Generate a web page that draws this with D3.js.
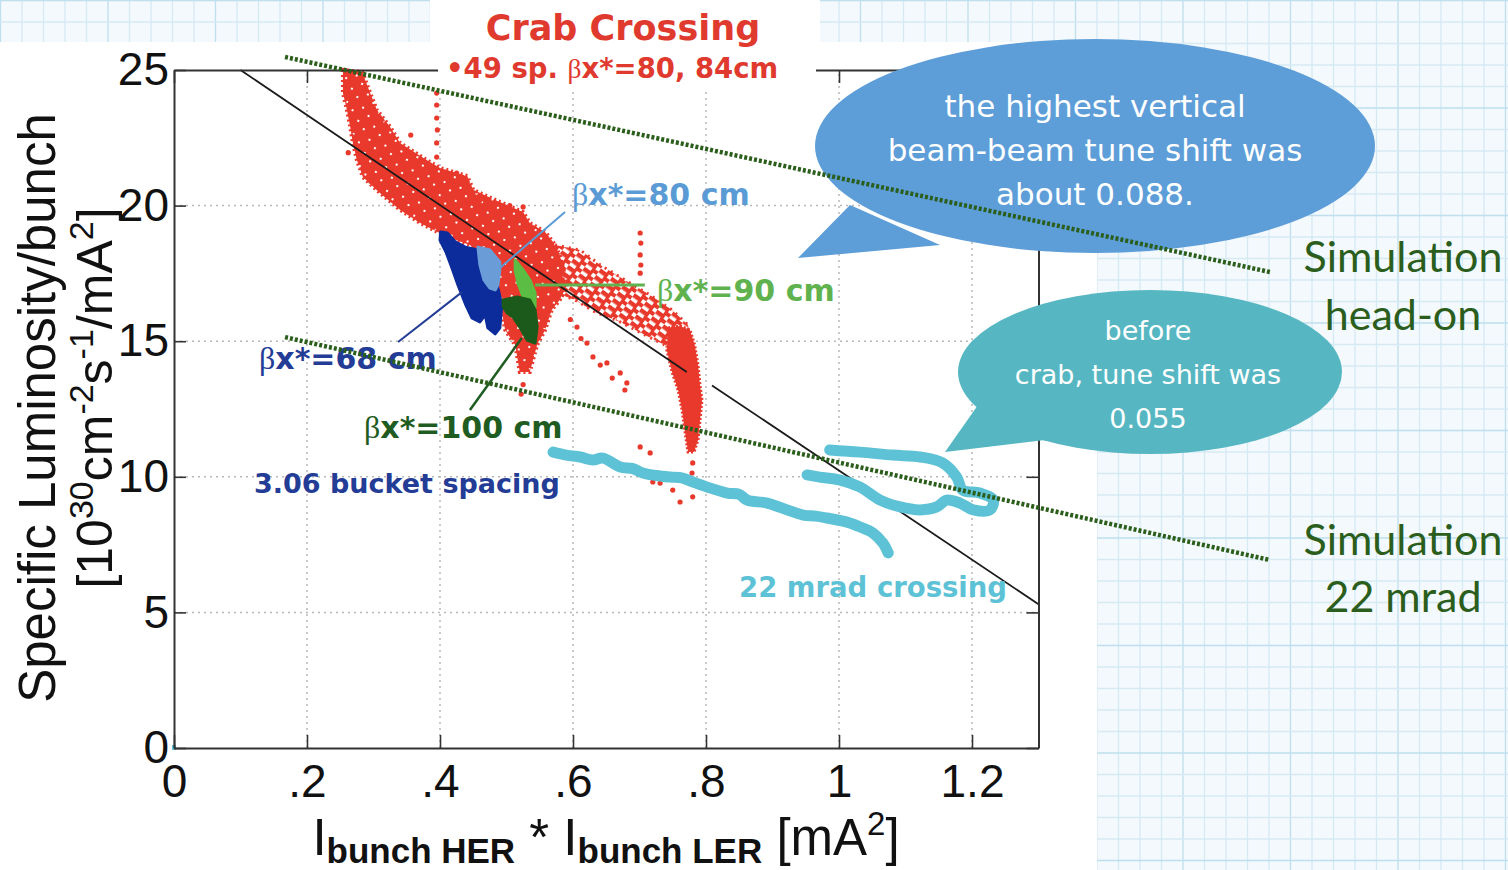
<!DOCTYPE html>
<html>
<head>
<meta charset="utf-8">
<script src="https://cdn.jsdelivr.net/npm/d3@7"></script>
<style>
  body { margin: 0; background: #fff; }
  svg { display: block; }
</style>
</head>
<body>
<svg id="chart"></svg>
<script>
// ---- data (x = Ibunch HER * Ibunch LER [mA^2], y = specific luminosity) ----
const xTicks = [0, 0.2, 0.4, 0.6, 0.8, 1, 1.2];
const xTickLabels = ["0", ".2", ".4", ".6", ".8", "1", "1.2"];
const yTicks = [0, 5, 10, 15, 20, 25];
const xGrid = [0.2, 0.4, 0.6, 0.8, 1, 1.2];
const yGrid = [5, 10, 15, 20];

// crab crossing, 49 sp. bx*=80,84cm : dense band, streaky band, vertical streak, loose points
const redBandDense = [
  [0.254, 25.00], [0.254, 24.15], [0.260, 23.53], [0.265, 22.90], [0.269, 22.31],
  [0.275, 21.68], [0.284, 21.05], [0.310, 20.46], [0.340, 19.84], [0.370, 19.36],
  [0.411, 18.84], [0.445, 18.55], [0.487, 17.63], [0.490, 16.52], [0.498, 15.41],
  [0.513, 14.86], [0.520, 13.86], [0.535, 13.86], [0.546, 14.86], [0.558, 15.41],
  [0.568, 16.15], [0.580, 16.52], [0.589, 16.96], [0.586, 17.63], [0.580, 18.18],
  [0.570, 18.66], [0.558, 19.03], [0.535, 19.36], [0.525, 19.76], [0.483, 20.21],
  [0.450, 20.58], [0.441, 21.09], [0.400, 21.39], [0.380, 21.68], [0.340, 22.31],
  [0.325, 22.90], [0.305, 23.53], [0.295, 24.15], [0.283, 24.93]
];
const redBandStreaky = [
  [0.573, 18.55], [0.611, 18.36], [0.641, 17.81], [0.678, 17.26], [0.716, 16.70],
  [0.749, 16.15], [0.773, 15.60], [0.776, 14.86], [0.738, 14.86], [0.708, 15.23],
  [0.671, 15.71], [0.633, 16.08], [0.603, 16.52], [0.583, 16.70]
];
const redStreak = [
  [0.743, 15.49], [0.761, 15.56], [0.776, 15.41], [0.783, 14.86], [0.788, 14.12],
  [0.791, 13.38], [0.794, 12.83], [0.791, 12.09], [0.788, 11.36], [0.782, 10.91],
  [0.773, 10.91], [0.768, 11.73], [0.764, 12.46], [0.758, 13.20], [0.749, 13.86],
  [0.741, 14.68]
];
const redDots = [
  [0.395, 24.15], [0.395, 23.71], [0.395, 23.23], [0.396, 22.79], [0.395, 22.31], [0.395, 21.79],
  [0.701, 18.99], [0.702, 18.62], [0.701, 18.18], [0.702, 17.81], [0.701, 17.51],
  [0.356, 22.60], [0.412, 20.95], [0.425, 21.20], [0.460, 20.20], [0.505, 20.00],
  [0.525, 19.95], [0.262, 21.95], [0.296, 20.90],
  [0.606, 15.52], [0.621, 14.93], [0.630, 14.42], [0.651, 14.20], [0.671, 13.83], [0.681, 13.46],
  [0.641, 14.12], [0.659, 13.64], [0.678, 13.20], [0.612, 15.10], [0.596, 15.80],
  [0.701, 11.10], [0.716, 10.88], [0.731, 9.77], [0.750, 9.51], [0.780, 9.26], [0.761, 9.07],
  [0.720, 9.81], [0.779, 10.14], [0.780, 10.51],
  [0.525, 13.40], [0.522, 13.05]
];

// 3.06 bucket spacing clusters
const beta68 = [
  [0.401, 19.03], [0.411, 18.99], [0.423, 18.66], [0.438, 18.47], [0.457, 18.36],
  [0.475, 17.92], [0.486, 17.07], [0.493, 16.33], [0.490, 15.49], [0.483, 15.27],
  [0.472, 15.49], [0.468, 15.97], [0.460, 15.71], [0.448, 15.86], [0.439, 16.33],
  [0.427, 17.07], [0.418, 17.70], [0.409, 18.29], [0.400, 18.73]
];
const beta80 = [
  [0.457, 18.47], [0.475, 18.36], [0.490, 17.92], [0.490, 17.63], [0.487, 17.07],
  [0.483, 16.89], [0.475, 16.96], [0.466, 17.26], [0.460, 17.81]
];
const beta90 = [
  [0.513, 17.99], [0.525, 17.63], [0.535, 17.26], [0.543, 16.78], [0.543, 16.26],
  [0.535, 16.41], [0.525, 16.63], [0.517, 17.15], [0.513, 17.63]
];
const beta100 = [
  [0.495, 16.52], [0.516, 16.63], [0.535, 16.52], [0.543, 16.15], [0.546, 15.52],
  [0.543, 14.93], [0.531, 15.04], [0.520, 15.52], [0.510, 15.89], [0.501, 16.04],
  [0.495, 16.26]
];

// 22 mrad crossing
const mradTrailA = [
  [0.570, 10.91], [0.590, 10.80], [0.611, 10.73], [0.630, 10.62], [0.645, 10.69],
  [0.671, 10.36], [0.690, 10.30], [0.705, 10.14], [0.725, 10.05], [0.746, 9.99],
  [0.765, 9.95], [0.780, 9.81], [0.802, 9.62], [0.832, 9.40], [0.850, 9.35],
  [0.862, 9.14], [0.892, 9.03], [0.922, 8.78], [0.946, 8.59], [0.965, 8.55],
  [0.982, 8.48], [1.012, 8.33], [1.032, 8.15], [1.051, 7.93], [1.066, 7.56],
  [1.074, 7.19]
];
const mradTrailB = [
  [0.986, 10.99], [1.032, 10.91], [1.081, 10.80], [1.122, 10.73], [1.156, 10.51],
  [1.177, 9.99], [1.186, 9.51], [1.212, 9.40], [1.232, 9.14], [1.227, 8.78],
  [1.202, 8.78], [1.182, 9.03], [1.162, 9.14], [1.147, 8.89], [1.122, 8.78],
  [1.092, 8.89], [1.062, 9.14], [1.032, 9.62], [1.002, 9.88], [0.971, 9.99],
  [0.952, 10.07]
];
const originDot = [[0, 0]];

// straight lines
const fitUpper = [[0.1, 25], [0.771, 13.86]];
const fitLower = [[0.809, 13.37], [1.3, 5.3]];
const simHeadOn = [[0.167, 25.48], [1.648, 17.55]];
const sim22mrad = [[0.167, 15.15], [1.648, 6.93]];

// leader lines for the beta labels (data coords)
const leaders = [
  { pts: [[0.588, 19.76], [0.490, 17.70]], color: "#5b9bd5", w: 2 },
  { pts: [[0.543, 17.07], [0.708, 17.07]], color: "#5fb24e", w: 3 },
  { pts: [[0.337, 14.97], [0.433, 16.81]], color: "#233c96", w: 2 },
  { pts: [[0.445, 12.46], [0.523, 15.12]], color: "#1f5c22", w: 2.5 }
];

// ---- drawing ----
const W = 1508, H = 870;
const RED = "#e8392c";
const svg = d3.select("#chart").attr("width", W).attr("height", H);

// textures for the scatter clouds
const defs = svg.append("defs");
const streaks = defs.append("pattern")
  .attr("id", "redStreaks")
  .attr("patternUnits", "userSpaceOnUse")
  .attr("width", 14).attr("height", 8)
  .attr("patternTransform", "rotate(36)");
streaks.append("rect").attr("width", 14).attr("height", 8).attr("fill", "#fff");
streaks.append("rect").attr("x", 0).attr("y", 0).attr("width", 10).attr("height", 4.5).attr("fill", RED);
streaks.append("rect").attr("x", 7).attr("y", 4).attr("width", 9).attr("height", 4).attr("fill", RED);
const speckle = defs.append("pattern")
  .attr("id", "redSpeckle")
  .attr("patternUnits", "userSpaceOnUse")
  .attr("width", 17).attr("height", 14)
  .attr("patternTransform", "rotate(20)");
speckle.append("rect").attr("width", 17).attr("height", 14).attr("fill", RED);
[[3, 4], [11, 10]].forEach(p => {
  speckle.append("rect").attr("x", p[0]).attr("y", p[1]).attr("width", 2).attr("height", 2).attr("fill", "#fff");
});

// graph paper behind the pasted chart
const paper = svg.append("g");
paper.append("rect").attr("width", W).attr("height", H).attr("fill", "#f3f9fc");
paper.selectAll("line.v")
  .data(d3.range(0.5, W, 21.5))
  .enter().append("line")
  .attr("x1", d => d).attr("x2", d => d)
  .attr("y1", 0).attr("y2", H)
  .attr("stroke", (d, i) => i % 5 === 0 ? "#bfdfee" : "#d6eaf4")
  .attr("stroke-width", 1.3);
paper.selectAll("line.h")
  .data(d3.range(0.5, H, 21.5))
  .enter().append("line")
  .attr("y1", d => d).attr("y2", d => d)
  .attr("x1", 0).attr("x2", W)
  .attr("stroke", (d, i) => i % 5 === 0 ? "#bfdfee" : "#d6eaf4")
  .attr("stroke-width", 1.3);
svg.append("rect").attr("x", 0).attr("y", 42).attr("width", 1097).attr("height", H - 42).attr("fill", "#fff");
svg.append("rect").attr("x", 430).attr("y", 0).attr("width", 390).attr("height", 44).attr("fill", "#fff");

const x = d3.scaleLinear().domain([0, 1.3]).range([174, 1038.5]);
const y = d3.scaleLinear().domain([0, 25]).range([748, 70]);
const line = d3.line().x(d => x(d[0])).y(d => y(d[1]));
const smooth = d3.line().x(d => x(d[0])).y(d => y(d[1])).curve(d3.curveCatmullRom);
const closed = d3.line().x(d => x(d[0])).y(d => y(d[1])).curve(d3.curveLinearClosed);

// dotted grid
svg.append("g").selectAll("line")
  .data(xGrid).enter().append("line")
  .attr("x1", d => x(d)).attr("x2", d => x(d))
  .attr("y1", y(0)).attr("y2", y(25))
  .attr("stroke", "#b8b8b8").attr("stroke-width", 1.5).attr("stroke-dasharray", "2,4");
svg.append("g").selectAll("line")
  .data(yGrid).enter().append("line")
  .attr("y1", d => y(d)).attr("y2", d => y(d))
  .attr("x1", x(0)).attr("x2", x(1.3))
  .attr("stroke", "#b8b8b8").attr("stroke-width", 1.5).attr("stroke-dasharray", "2,4");

// red crab data
svg.append("path").datum(redBandStreaky)
  .attr("d", closed)
  .attr("fill", "url(#redStreaks)")
  .attr("stroke", RED).attr("stroke-width", 3).attr("stroke-dasharray", "2,5");
svg.append("path").datum(redBandDense)
  .attr("d", closed)
  .attr("fill", "url(#redSpeckle)")
  .attr("stroke", RED).attr("stroke-width", 4).attr("stroke-dasharray", "2,3");
svg.append("path").datum(redStreak)
  .attr("d", closed)
  .attr("fill", RED)
  .attr("stroke", RED).attr("stroke-width", 3).attr("stroke-dasharray", "2,2");
svg.append("g").selectAll("circle")
  .data(redDots).enter().append("circle")
  .attr("cx", d => x(d[0])).attr("cy", d => y(d[1])).attr("r", 2.6)
  .attr("fill", RED);

// black fit line
[fitUpper, fitLower].forEach(seg => {
  svg.append("path").datum(seg).attr("d", line)
    .attr("stroke", "#1a1a1a").attr("stroke-width", 1.8).attr("fill", "none");
});

// bucket spacing clusters
const clusters = [
  { pts: beta68, color: "#0b2c9a" },
  { pts: beta80, color: "#6a9dd8" },
  { pts: beta90, color: "#5cbd44" },
  { pts: beta100, color: "#1c5a1c" }
];
clusters.forEach(c => {
  svg.append("path").datum(c.pts).attr("d", closed)
    .attr("fill", c.color).attr("stroke", c.color).attr("stroke-width", 3)
    .attr("stroke-linejoin", "round");
});

// 22 mrad trails
[mradTrailA, mradTrailB].forEach(t => {
  svg.append("path").datum(t)
    .attr("d", smooth)
    .attr("fill", "none").attr("stroke", "#5ec2d6")
    .attr("stroke-width", 11).attr("stroke-linecap", "round").attr("stroke-linejoin", "round");
});
svg.selectAll("rect.origin").data(originDot).enter().append("rect")
  .attr("x", d => x(d[0]) - 2).attr("y", d => y(d[1]) - 3).attr("width", 4).attr("height", 5)
  .attr("fill", "#5ec2d6");

// leader lines
leaders.forEach(l => {
  svg.append("path").datum(l.pts).attr("d", line)
    .attr("stroke", l.color).attr("stroke-width", l.w).attr("fill", "none");
});

// axes
const tickFont = "'Liberation Sans', Arial, Helvetica, sans-serif";
function styleAxis(g) {
  g.select(".domain").attr("stroke", "#333").attr("stroke-width", 2);
  g.selectAll(".tick line").attr("stroke", "#333").attr("stroke-width", 1.6);
  g.selectAll("text").attr("font-family", tickFont).attr("font-size", 46).attr("fill", "#111");
}
const minorX = d3.range(0, 26).map(i => i * 0.05);
const minorY = d3.range(0, 26);

const gBottom = svg.append("g").attr("transform", `translate(0,${y(0)})`);
gBottom.call(d3.axisBottom(x).tickValues(minorX).tickSize(-7).tickSizeOuter(0).tickFormat(""));
gBottom.call(d3.axisBottom(x).tickValues(xTicks).tickSize(-13).tickSizeOuter(0)
  .tickPadding(16).tickFormat((d, i) => xTickLabels[i]));
styleAxis(gBottom);

const gLeft = svg.append("g").attr("transform", `translate(${x(0)},0)`);
gLeft.call(d3.axisLeft(y).tickValues(minorY).tickSize(-6).tickSizeOuter(0).tickFormat(""));
gLeft.call(d3.axisLeft(y).tickValues(yTicks).tickSize(-12).tickSizeOuter(0).tickPadding(5));
styleAxis(gLeft);

const gTop = svg.append("g").attr("transform", `translate(0,${y(25)})`);
gTop.call(d3.axisTop(x).tickValues(minorX).tickSize(-7).tickSizeOuter(0).tickFormat(""));
gTop.call(d3.axisTop(x).tickValues(xTicks).tickSize(-13).tickSizeOuter(0).tickFormat(""));
styleAxis(gTop);

const gRight = svg.append("g").attr("transform", `translate(${x(1.3)},0)`);
gRight.call(d3.axisRight(y).tickValues(minorY).tickSize(-6).tickSizeOuter(0).tickFormat(""));
gRight.call(d3.axisRight(y).tickValues(yTicks).tickSize(-12).tickSizeOuter(0).tickFormat(""));
styleAxis(gRight);

// axis titles
const xt = svg.append("text")
  .attr("x", 606).attr("y", 855).attr("text-anchor", "middle")
  .attr("font-family", tickFont).attr("font-size", 51).attr("fill", "#111");
xt.append("tspan").text("I");
xt.append("tspan").attr("dy", 8).attr("font-size", 35).attr("font-weight", "bold").text("bunch HER");
xt.append("tspan").attr("dy", -8).text(" * I");
xt.append("tspan").attr("dy", 8).attr("font-size", 35).attr("font-weight", "bold").text("bunch LER");
xt.append("tspan").attr("dy", -8).text(" [mA");
xt.append("tspan").attr("dy", -20).attr("font-size", 33).text("2");
xt.append("tspan").attr("dy", 20).text("]");

svg.append("text")
  .attr("transform", "translate(55,408) rotate(-90)")
  .attr("text-anchor", "middle")
  .attr("font-family", tickFont).attr("font-size", 51).attr("fill", "#111")
  .text("Specific Luminosity/bunch");
const yt2 = svg.append("text")
  .attr("transform", "translate(112,398) rotate(-90)")
  .attr("text-anchor", "middle")
  .attr("font-family", tickFont).attr("font-size", 50).attr("fill", "#111");
yt2.append("tspan").text("[10");
yt2.append("tspan").attr("dy", -19).attr("font-size", 34).text("30");
yt2.append("tspan").attr("dy", 19).text("cm");
yt2.append("tspan").attr("dy", -19).attr("font-size", 34).text("-2");
yt2.append("tspan").attr("dy", 19).text("s");
yt2.append("tspan").attr("dy", -19).attr("font-size", 34).text("-1");
yt2.append("tspan").attr("dy", 19).text("/mA");
yt2.append("tspan").attr("dy", -19).attr("font-size", 34).text("2");
yt2.append("tspan").attr("dy", 19).text("]");

// titles and in-plot labels
const labelFont = "'DejaVu Sans', Verdana, sans-serif";
svg.append("text").attr("x", 623).attr("y", 40).attr("text-anchor", "middle")
  .attr("font-family", labelFont).attr("font-weight", "bold").attr("font-size", 35)
  .attr("fill", "#e03a2f").text("Crab Crossing");
svg.append("rect").attr("x", 438).attr("y", 52).attr("width", 378).attr("height", 36).attr("fill", "#fff");

function label(px, py, size, color) {
  return svg.append("text").attr("x", px).attr("y", py)
    .attr("font-family", labelFont).attr("font-size", size)
    .attr("font-weight", "bold").attr("fill", color);
}
const sub = label(446, 78, 27.5, "#e03a2f");
sub.append("tspan").text("\u202249 sp. ");
sub.append("tspan").attr("font-family", "'Liberation Serif', serif").attr("font-weight", "normal").text("\u03b2");
sub.append("tspan").text("x*=80, 84cm");

const betaTexts = [
  { px: 572, py: 205, size: 30, color: "#5b9bd5", txt: "x*=80 cm" },
  { px: 657, py: 301, size: 30, color: "#5fb24e", txt: "x*=90 cm" },
  { px: 259, py: 369, size: 30, color: "#233c96", txt: "x*=68 cm" },
  { px: 364, py: 438, size: 30, color: "#1f5c22", txt: "x*=100 cm" }
];
betaTexts.forEach(b => {
  const t = label(b.px, b.py, b.size, b.color);
  t.append("tspan").attr("font-family", "'Liberation Serif', serif").attr("font-weight", "normal")
    .attr("font-size", b.size + 2).text("\u03b2");
  t.append("tspan").text(b.txt);
});
label(254, 493, 27, "#233c96").text("3.06 bucket spacing");
label(739, 597, 27.5, "#5ec2d6").text("22 mrad crossing");

// speech bubbles
const bubbleFont = "'DejaVu Sans', sans-serif";
svg.append("path")
  .attr("d", "M850,205 L798,258 L940,245 Z")
  .attr("fill", "#5d9dd8");
svg.append("ellipse").attr("cx", 1095).attr("cy", 146).attr("rx", 280).attr("ry", 107)
  .attr("fill", "#5d9dd8");
["the highest vertical", "beam-beam tune shift was", "about 0.088."].forEach((s, i) => {
  svg.append("text").attr("x", 1095).attr("y", 117 + i * 44).attr("text-anchor", "middle")
    .attr("font-family", bubbleFont).attr("font-size", 31).attr("fill", "#fff").text(s);
});

svg.append("path")
  .attr("d", "M985,395 L945,452 L1045,440 Z")
  .attr("fill", "#56b7c3");
svg.append("ellipse").attr("cx", 1150).attr("cy", 372).attr("rx", 192).attr("ry", 82)
  .attr("fill", "#56b7c3");
["before", "crab, tune shift was", "0.055"].forEach((s, i) => {
  svg.append("text").attr("x", 1148).attr("y", 340 + i * 44).attr("text-anchor", "middle")
    .attr("font-family", bubbleFont).attr("font-size", 27).attr("fill", "#fff").text(s);
});

// simulation lines (drawn over the bubble)
[simHeadOn, sim22mrad].forEach(s => {
  svg.append("path").datum(s).attr("d", line)
    .attr("stroke", "#2a5e1a").attr("stroke-width", 4.5)
    .attr("stroke-dasharray", "3,2").attr("fill", "none");
});

// simulation labels
const simFont = "Lato, 'Noto Sans', sans-serif";
[["Simulation", 272], ["head-on", 330], ["Simulation", 555], ["22 mrad", 612]].forEach(d => {
  svg.append("text").attr("x", 1403).attr("y", d[1]).attr("text-anchor", "middle")
    .attr("font-family", simFont).attr("font-size", 43).attr("fill", "#2b5e1c").text(d[0]);
});
</script>
</body>
</html>
